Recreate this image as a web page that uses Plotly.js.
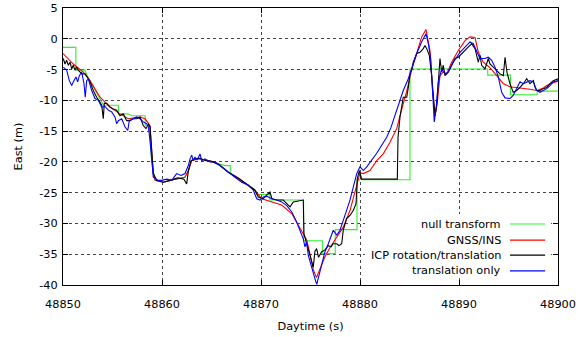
<!DOCTYPE html>
<html><head><meta charset="utf-8">
<script src="https://cdn.plot.ly/plotly-3.0.1.min.js"></script>
<style>html,body{margin:0;padding:0;background:#fff}#c{width:579px;height:337px}</style>
</head><body><div id="c"></div>
<script>
var seriesNames = ["null transform", "GNSS/INS", "ICP rotation/translation", "translation only"];
var seriesColors = ["#33ee33", "#ff0000", "#000000", "#0000ff"];

var nullT = [48850.0,48851.3,48851.3,48852.2,48852.7,48853.7,48854.1,48855.6,48855.6,48856.6,48856.9,48858.3,48858.3,48858.7,48858.96,48859.3,48860.1,48861.1,48862.3,48862.7,48863.0,48863.7,48864.7,48865.7,48866.4,48866.9,48866.9,48867.7,48868.7,48869.3,48869.6,48870.9,48870.9,48874.3,48874.3,48876.2,48876.2,48877.5,48877.5,48879.7,48879.7,48885.05,48885.05,48892.9,48892.9,48895.2,48895.2,48897.9,48897.9,48900.0];
var nullV = [-1.4,-1.4,-5.1,-5.1,-6.8,-9.5,-10.8,-10.8,-12.2,-12.2,-12.5,-12.5,-14.1,-14.1,-20.0,-23.0,-23.3,-22.9,-22.5,-21.4,-19.8,-19.5,-19.8,-20.3,-20.6,-20.6,-21.8,-22.7,-23.8,-24.4,-25.3,-25.3,-26.2,-26.2,-32.8,-32.8,-34.9,-34.9,-31.0,-31.0,-22.9,-22.9,-4.9,-4.9,-5.9,-5.9,-9.1,-9.1,-8.5,-8.5];

var gnssT = [48850.0,48851.04,48852.05,48852.73,48853.74,48854.75,48855.76,48856.6,48857.78,48858.28,48858.79,48858.96,48859.12,48859.29,48860.13,48861.14,48862.32,48862.66,48863.0,48863.67,48864.68,48865.69,48866.7,48867.71,48868.72,48869.39,48870.07,48871.08,48872.09,48873.1,48873.77,48874.27,48874.62,48874.95,48875.28,48875.6,48875.96,48876.46,48876.97,48877.65,48878.31,48878.99,48879.67,48880.0,48880.33,48881.01,48881.69,48882.35,48883.03,48883.71,48884.04,48884.72,48885.22,48885.73,48886.23,48886.67,48887.07,48887.34,48887.58,48887.81,48888.08,48888.41,48888.76,48889.26,48889.93,48890.61,48891.11,48891.62,48891.95,48892.45,48893.13,48893.81,48894.48,48895.15,48895.83,48896.5,48897.17,48897.85,48898.52,48898.86,48899.39,48900.0];
var gnssV = [-2.4,-4.1,-5.4,-6.8,-9.5,-11.1,-12.2,-13.0,-12.7,-13.0,-14.1,-18.5,-21.8,-23.0,-23.3,-22.9,-22.5,-21.4,-19.8,-19.5,-19.8,-20.3,-21.7,-22.7,-23.8,-24.6,-26.0,-26.5,-27.0,-28.4,-30.3,-31.7,-32.7,-35.0,-37.5,-38.8,-37.3,-35.4,-33.9,-32.2,-30.6,-27.9,-23.5,-21.8,-21.9,-21.4,-19.8,-18.7,-16.8,-14.6,-12.5,-8.5,-5.0,-2.2,0.3,1.5,-1.9,-8.7,-12.5,-10.3,-6.0,-5.4,-5.7,-3.8,-1.9,-0.3,0.3,0.2,-2.2,-3.8,-4.7,-6.0,-7.3,-7.8,-7.9,-8.0,-8.2,-8.4,-8.0,-7.6,-7.2,-6.9];

var icpT = [48850.03,48850.2,48850.37,48850.54,48850.71,48850.88,48851.04,48851.21,48851.38,48851.55,48851.89,48852.22,48852.56,48852.73,48853.06,48853.4,48853.74,48853.91,48854.07,48854.17,48854.41,48854.75,48855.08,48855.42,48855.76,48856.09,48856.43,48856.77,48857.1,48857.44,48857.78,48858.11,48858.38,48858.62,48858.79,48858.96,48859.12,48859.46,48860.13,48860.81,48861.62,48862.22,48862.49,48862.66,48862.93,48863.33,48863.84,48864.44,48865.05,48865.86,48866.7,48867.71,48868.72,48869.39,48869.73,48870.2,48870.56,48870.91,48871.11,48871.59,48872.25,48872.93,48873.26,48873.6,48873.94,48874.27,48874.34,48874.61,48874.95,48875.28,48875.45,48875.62,48875.81,48876.13,48876.46,48876.8,48877.07,48877.3,48877.65,48877.88,48878.15,48878.31,48878.65,48878.99,48879.32,48879.6,48879.73,48879.93,48880.17,48883.77,48883.84,48884.04,48884.37,48884.72,48884.88,48885.05,48885.22,48885.38,48885.73,48886.06,48886.39,48886.57,48886.74,48887.0,48887.24,48887.47,48887.58,48887.75,48887.91,48888.08,48888.25,48888.41,48888.59,48888.92,48889.26,48889.6,48889.93,48890.27,48890.78,48891.28,48891.62,48891.95,48892.12,48892.29,48892.63,48892.96,48893.13,48893.47,48893.81,48894.14,48894.48,48894.65,48894.85,48895.15,48895.48,48895.83,48896.16,48896.5,48896.84,48897.17,48897.51,48897.68,48897.85,48898.18,48898.52,48898.86,48899.19,48899.52,48900.0];
var icpV = [-3.2,-4.1,-3.5,-4.3,-3.8,-4.9,-4.3,-5.1,-4.6,-5.1,-5.7,-5.7,-6.5,-7.0,-8.4,-9.5,-10.3,-10.8,-13.0,-10.5,-10.5,-11.1,-11.4,-11.6,-12.5,-12.2,-13.3,-13.3,-13.0,-13.0,-12.7,-14.1,-14.6,-13.9,-14.3,-18.1,-21.9,-23.0,-23.3,-23.0,-22.6,-22.8,-23.6,-21.5,-19.8,-19.5,-19.4,-19.8,-19.9,-20.6,-21.7,-22.6,-23.8,-24.6,-25.7,-26.0,-25.4,-24.9,-26.0,-26.2,-26.2,-27.3,-26.5,-26.4,-26.2,-26.2,-31.7,-33.3,-35.5,-37.1,-34.5,-34.1,-35.5,-34.6,-34.3,-33.6,-33.8,-33.3,-33.3,-33.6,-33.3,-31.1,-29.2,-28.7,-27.9,-26.8,-22.7,-21.4,-22.8,-22.8,-16.0,-12.7,-9.5,-9.5,-7.9,-5.7,-5.1,-3.8,-2.4,-2.2,-1.6,-1.1,-1.6,-2.7,-6.0,-10.8,-12.5,-10.8,-6.5,-3.2,-5.4,-4.3,-6.0,-5.4,-4.3,-3.2,-3.0,-2.4,-1.6,-0.8,-1.6,-3.8,-2.7,-4.3,-4.9,-3.2,-4.1,-4.6,-5.1,-5.7,-6.0,-3.0,-5.5,-7.3,-8.7,-8.4,-7.9,-7.3,-6.5,-7.3,-6.8,-7.9,-8.4,-8.4,-8.1,-7.9,-7.3,-6.8,-6.5];

var transT = [48850.03,48850.37,48850.64,48850.88,48851.04,48851.31,48851.48,48851.65,48851.89,48852.12,48852.25,48852.39,48852.56,48852.9,48853.23,48853.57,48853.91,48854.24,48854.58,48854.92,48855.25,48855.42,48855.59,48855.93,48856.26,48856.54,48856.7,48857.1,48857.44,48857.78,48858.11,48858.45,48858.62,48858.79,48858.96,48859.12,48859.63,48859.97,48860.47,48860.98,48861.48,48861.92,48862.32,48862.66,48862.83,48863.0,48863.16,48863.33,48863.54,48863.84,48864.01,48864.34,48864.85,48865.35,48866.03,48866.7,48867.37,48868.05,48868.72,48869.22,48869.57,48869.9,48870.23,48870.61,48871.08,48871.59,48872.09,48872.6,48873.1,48873.61,48873.94,48874.27,48874.44,48874.6,48874.78,48875.12,48875.45,48875.63,48875.96,48876.13,48876.46,48876.8,48877.14,48877.3,48877.65,48877.98,48878.31,48878.65,48878.99,48879.32,48879.67,48880.0,48880.33,48880.68,48881.18,48881.69,48882.19,48882.7,48883.13,48883.71,48884.37,48884.88,48885.22,48885.73,48886.23,48886.67,48886.9,48887.14,48887.34,48887.5,48887.68,48887.91,48888.25,48888.59,48888.92,48889.42,48890.1,48890.61,48891.11,48891.44,48891.79,48892.12,48892.63,48892.96,48893.3,48893.64,48893.97,48894.31,48894.65,48895.15,48895.48,48895.83,48896.16,48896.5,48896.84,48897.17,48897.51,48897.85,48898.18,48898.52,48898.86,48899.19,48899.52,48900.0];
var transV = [-4.6,-5.1,-6.8,-7.6,-7.0,-6.2,-7.0,-6.0,-5.4,-7.3,-9.5,-6.8,-6.5,-8.4,-9.7,-10.0,-11.1,-11.0,-11.6,-11.9,-12.7,-13.8,-13.3,-13.0,-14.3,-14.9,-13.3,-13.0,-12.7,-13.0,-13.5,-13.8,-14.3,-16.5,-19.8,-22.5,-23.0,-23.0,-22.8,-23.0,-21.9,-22.2,-21.9,-20.6,-19.5,-18.9,-19.8,-19.2,-19.7,-18.7,-19.8,-19.5,-20.0,-20.0,-20.8,-21.7,-22.5,-23.3,-23.8,-24.6,-26.0,-26.2,-25.7,-25.6,-26.0,-26.2,-26.5,-27.1,-28.1,-29.8,-31.1,-32.5,-33.8,-33.0,-35.2,-37.3,-39.0,-39.9,-37.9,-36.5,-34.6,-33.3,-31.7,-31.1,-31.9,-31.1,-29.5,-27.9,-26.2,-24.1,-21.9,-20.8,-21.4,-20.8,-19.8,-18.6,-17.3,-16.0,-14.4,-11.6,-8.4,-6.5,-4.9,-2.4,-0.5,0.8,-0.8,-3.2,-8.7,-13.5,-11.4,-7.0,-4.9,-5.7,-5.4,-3.8,-2.2,-1.4,-0.5,-0.8,-2.2,-3.2,-3.2,-3.0,-3.5,-4.6,-6.2,-8.7,-9.6,-9.7,-9.2,-8.1,-7.0,-7.3,-7.0,-6.8,-7.0,-8.4,-8.7,-8.4,-8.1,-7.6,-7.0,-6.8];

var xTickVals = [48850, 48860, 48870, 48880, 48890, 48900];
var yTickVals = [-40, -35, -30, -25, -20, -15, -10, -5, 0, 5];

var xs = [nullT, gnssT, icpT, transT];
var ys = [nullV, gnssV, icpV, transV];
var traces = xs.map(function(x, i){
  return {x: x, y: ys[i], type: 'scatter', mode: 'lines', name: seriesNames[i],
    line: {color: seriesColors[i], width: 1.1}, showlegend: false, hoverinfo: 'skip'};
});

var FONT = 'DejaVu Sans, sans-serif';
var FS = 11.3;
var legX = 0.889, lineX0 = 0.903, lineX1 = 0.974;
var legY = [0.220, 0.162, 0.108, 0.051];
var shapes = [{type: 'rect', xref: 'paper', yref: 'paper', x0: 0.61, x1: 0.986, y0: 0.024, y1: 0.256,
  fillcolor: '#ffffff', line: {width: 0}, layer: 'above'}];
var annotations = [];
seriesNames.forEach(function(n, i){
  annotations.push({xref: 'paper', yref: 'paper', x: legX, y: legY[i], text: n, showarrow: false,
    xanchor: 'right', yanchor: 'middle', font: {family: FONT, size: FS, color: '#000'}});
  shapes.push({type: 'line', xref: 'paper', yref: 'paper', x0: lineX0, x1: lineX1, y0: legY[i], y1: legY[i],
    line: {color: seriesColors[i], width: 1.1}, layer: 'above'});
});

var axisCommon = {showline: true, linecolor: '#000', linewidth: 1, mirror: 'allticks', ticks: 'inside',
  ticklen: 5, tickcolor: '#000', showgrid: true, gridcolor: '#444', griddash: 'dot', gridwidth: 1,
  zeroline: false, tickfont: {family: FONT, size: FS, color: '#000'}};

var layout = {
  width: 579, height: 337,
  margin: {l: 63, r: 21, t: 8, b: 52},
  paper_bgcolor: '#fff', plot_bgcolor: '#fff',
  font: {family: FONT, size: FS, color: '#000'},
  xaxis: Object.assign({}, axisCommon, {range: [48850, 48900], tickvals: xTickVals,
    ticktext: xTickVals.map(String), ticklabelstandoff: 8,
    title: {text: 'Daytime (s)', font: {family: FONT, size: FS}, standoff: 12}}),
  yaxis: Object.assign({}, axisCommon, {range: [-40, 5], tickvals: yTickVals,
    ticktext: yTickVals.map(String), ticklabelstandoff: 2,
    title: {text: 'East (m)', font: {family: FONT, size: FS}, standoff: 14}}),
  shapes: shapes,
  annotations: annotations,
  showlegend: false
};
Plotly.newPlot('c', traces, layout, {displayModeBar: false, staticPlot: true});
</script>
</body></html>
